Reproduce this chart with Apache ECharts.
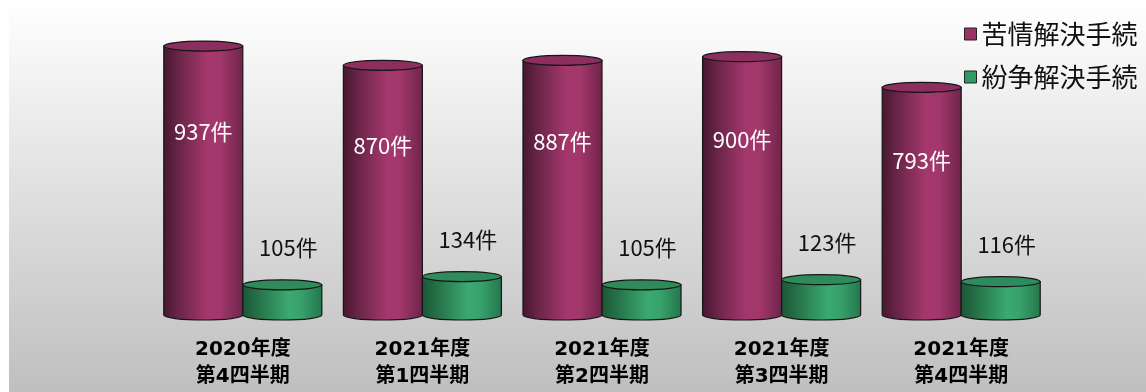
<!DOCTYPE html>
<html>
<head>
<meta charset="utf-8">
<script src="https://cdn.jsdelivr.net/npm/echarts@6/dist/echarts.min.js"></script>
<style>
  html, body { margin: 0; padding: 0; background: #fff; }
  #chart { width: 1146px; height: 392px; }
</style>
</head>
<body>
<div id="chart"></div>
<script>
const categories = ['2020年度\n第4四半期', '2021年度\n第1四半期', '2021年度\n第2四半期', '2021年度\n第3四半期', '2021年度\n第4四半期'];
const seriesNames = ['苦情解決手続', '紛争解決手続'];
const complaints = [937, 870, 887, 900, 793];
const disputes = [105, 134, 105, 123, 116];
const unit = '件';

const FONT = '"Noto Sans CJK JP", "Noto Sans", sans-serif';
const AXIS_FONT = '"DejaVu Sans", "Noto Sans CJK JP", sans-serif';

// 円柱の色（本体は横グラデーション）
const looks = [
  {
    body: [[0, '#45172f'], [0.2, '#6b2549'], [0.55, '#a4386d'], [0.72, '#a1376b'], [1, '#6e2449']],
    top: '#8c2e5e',
    legend: '#9c3366'
  },
  {
    body: [[0, '#1b5536'], [0.2, '#267248'], [0.58, '#3ba971'], [0.74, '#37a16b'], [1, '#25754c']],
    top: '#2f8b5c',
    legend: '#2e9a64'
  }
];

function cylinder(idx) {
  return function (params, api) {
    const cat = api.value(0);
    const val = api.value(1);
    const base = api.coord([cat, 0]);
    const topP = api.coord([cat, val]);
    const band = api.size([1, 0])[0];
    const w = band * 0.44;
    const x0 = idx === 0 ? base[0] - w : base[0];
    const x1 = x0 + w;
    const rx = w / 2, ry = 5;
    const yb = base[1], yt = topP[1];
    const lk = looks[idx];

    const bodyPath = 'M' + x0 + ',' + yt + ' L' + x0 + ',' + yb +
      ' A' + rx + ',' + ry + ' 0 0 0 ' + x1 + ',' + yb +
      ' L' + x1 + ',' + yt + ' Z';
    const topPath = 'M' + x0 + ',' + yt +
      ' A' + rx + ',' + ry + ' 0 0 1 ' + x1 + ',' + yt +
      ' A' + rx + ',' + ry + ' 0 0 1 ' + x0 + ',' + yt + ' Z';

    let label;
    if (idx === 0) {
      // 白文字、円柱の中
      label = {
        type: 'text',
        x: x0 + rx,
        y: api.coord([cat, val * 0.68])[1],
        style: {
          text: val + unit, fill: '#fff', fontSize: 22, fontFamily: FONT,
          align: 'center', verticalAlign: 'middle'
        }
      };
    } else {
      label = {
        type: 'text',
        x: x0 + rx + 6,
        y: yt - 37,
        style: {
          text: val + unit, fill: '#111', fontSize: 22, fontFamily: FONT,
          align: 'center', verticalAlign: 'middle'
        }
      };
    }

    return {
      type: 'group',
      children: [
        {
          type: 'path',
          shape: { pathData: bodyPath },
          style: {
            fill: {
              type: 'linear', x: 0, y: 0, x2: 1, y2: 0,
              colorStops: lk.body.map(s => ({ offset: s[0], color: s[1] }))
            },
            stroke: '#161616', lineWidth: 1.2
          }
        },
        {
          type: 'path',
          shape: { pathData: topPath },
          style: { fill: lk.top, stroke: '#161616', lineWidth: 1.2 }
        },
        label
      ]
    };
  };
}

const chart = echarts.init(document.getElementById('chart'));

const option = {
  animation: false,
  graphic: {
    elements: [{
      type: 'rect',
      z: -100,
      silent: true,
      shape: { x: 9, y: 7, width: 1137, height: 385 },
      style: {
        fill: {
          type: 'linear', x: 0, y: 0, x2: 0, y2: 1,
          colorStops: [{ offset: 0, color: '#fefefe' }, { offset: 1, color: '#bfbfbf' }]
        }
      }
    }]
  },
  legend: {
    orient: 'vertical',
    left: 959,
    top: 14,
    itemWidth: 12,
    itemHeight: 12,
    itemGap: 13,
    icon: 'rect',
    itemStyle: { borderColor: '#222', borderWidth: 1 },
    textStyle: { fontSize: 26, lineHeight: 30, color: '#111', fontFamily: FONT },
    data: seriesNames
  },
  grid: { left: 153, width: 898, top: 28, bottom: 77 },
  xAxis: {
    type: 'category',
    data: categories,
    axisLine: { show: false },
    axisTick: { show: false },
    axisLabel: {
      margin: 21,
      fontSize: 20,
      fontWeight: 'bold',
      lineHeight: 27,
      color: '#000',
      fontFamily: AXIS_FONT
    }
  },
  yAxis: { type: 'value', min: 0, max: 1000, show: false },
  series: [
    {
      name: seriesNames[0],
      type: 'custom',
      renderItem: cylinder(0),
      itemStyle: { color: looks[0].legend },
      encode: { x: 0, y: 1 },
      data: complaints.map((v, i) => [i, v])
    },
    {
      name: seriesNames[1],
      type: 'custom',
      renderItem: cylinder(1),
      itemStyle: { color: looks[1].legend },
      encode: { x: 0, y: 1 },
      data: disputes.map((v, i) => [i, v])
    }
  ]
};

chart.setOption(option);
</script>
</body>
</html>
